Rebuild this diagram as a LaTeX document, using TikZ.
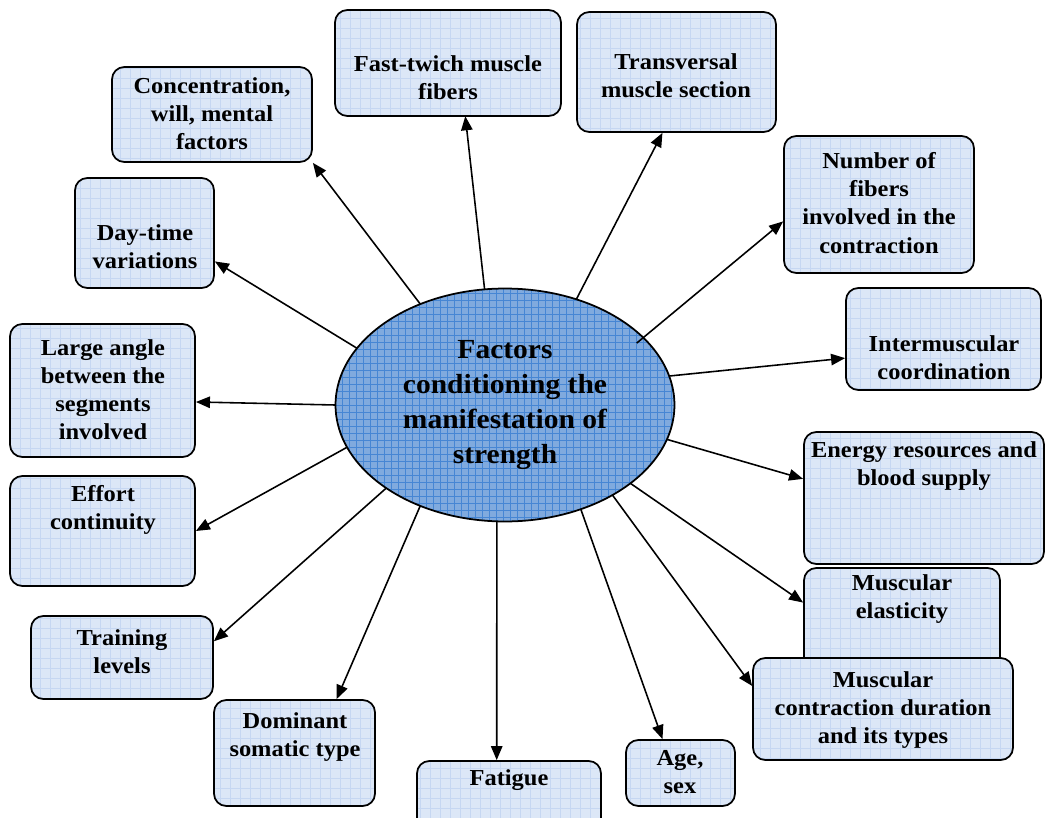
\documentclass[tikz,border=0pt]{standalone}
\usepackage{fontspec}
\setmainfont{Liberation Serif}[FakeStretch=1.07]
\usetikzlibrary{arrows.meta,shapes.geometric,fit,patterns.meta}
\definecolor{boxblue}{RGB}{220,231,247}
\definecolor{boxgrid}{RGB}{198,215,242}
\definecolor{hubblue}{RGB}{128,170,222}
\definecolor{hubgrid}{RGB}{70,134,212}

\begin{document}
\begin{tikzpicture}[
  x=0.02cm, y=-0.02cm,
  >={Triangle[length=8pt,width=6.5pt]},
  every node/.style={font=\fontsize{13}{16}\selectfont\bfseries},
  boxstep/.style={draw, line width=1pt, rounded corners=7pt, inner sep=0pt,
    preaction={fill=boxblue},
    pattern={Hatch[distance=0.2cm,line width=0.25pt]}, pattern color=boxgrid},
  boxtxt/.style={align=center, inner sep=0pt},
  hub/.style={draw, ellipse, line width=1pt, inner sep=0pt,
    preaction={fill=hubblue},
    pattern={Hatch[distance=0.14cm,line width=0.35pt]}, pattern color=hubgrid,
    minimum width=6.78cm, minimum height=4.66cm, align=center,
    font=\fontsize{15.7}{20}\selectfont\bfseries},
  arr/.style={->, line width=0.9pt}
]
\useasboundingbox (0,0) rectangle (1046,818);

\node[boxstep, fit={(335,10) (561,116)}] (b1) {};
\node[boxstep, fit={(577,12) (776,132)}] (b2) {};
\node[boxstep, fit={(112,67) (312,162)}] (b3) {};
\node[boxstep, fit={(784,136) (974,273)}] (b4) {};
\node[boxstep, fit={(75,178) (214,288)}] (b5) {};
\node[boxstep, fit={(846,288) (1041,390)}] (b6) {};
\node[boxstep, fit={(10,324) (195,457)}] (b7) {};
\node[boxstep, fit={(804,432) (1044,564)}] (b8) {};
\node[boxstep, fit={(10,476) (195,586)}] (b9) {};
\node[boxstep, fit={(804,568) (1000,672)}] (b10) {};
\node[boxstep, fit={(31,616) (213,699)}] (b11) {};
\node[boxstep, fit={(753,658) (1013,760)}] (b12) {};
\node[boxstep, fit={(214,700) (375,806)}] (b13) {};
\node[boxstep, fit={(417,761) (601,845)}] (b14) {};
\node[boxstep, fit={(626,740) (735,806)}] (b15) {};

\node[boxtxt] (t1) at (448,78) {Fast-twich muscle\\fibers};
\node[boxtxt] (t2) at (676,76) {Transversal\\muscle section};
\node[boxtxt] (t3) at (212,114) {Concentration,\\will, mental\\factors};
\node[boxtxt] (t4) at (879,203) {Number of\\fibers\\involved in the\\contraction};
\node[boxtxt] (t5) at (145,247) {Day-time\\variations};
\node[boxtxt] (t6) at (944,358) {Intermuscular\\coordination};
\node[boxtxt] (t7) at (103,390) {Large angle\\between the\\segments\\involved};
\node[boxtxt] (t8) at (924,466) {Energy resources and\\blood supply};
\node[boxtxt] (t9) at (103,510) {Effort\\continuity};
\node[boxtxt] (t10) at (902,599) {Muscular\\elasticity};
\node[boxtxt] (t11) at (122,652) {Training\\levels};
\node[boxtxt] (t12) at (883,710) {Muscular\\contraction duration\\and its types};
\node[boxtxt] (t13) at (295,737) {Dominant\\somatic type};
\node[boxtxt] (t14) at (509,780) {Fatigue};
\node[boxtxt] (t15) at (680,772) {Age,\\sex};

\node[hub] (hub) at (505,405) {Factors\\conditioning the\\manifestation of\\strength};

\draw[arr] (hub.100) -- (b1.-72);
\draw[arr] (hub.56) -- (b2.-103);
\draw[arr] (hub.130) -- (b3.south east);
\draw[arr, shorten <=-5pt] (hub.26) -- (b4.190);
\draw[arr] (hub.159) -- (b5.-22);
\draw[arr] (hub.10) -- (b6.191);
\draw[arr] (hub.180) -- (b7.-7);
\draw[arr] (hub.-12) -- (b8.171);
\draw[arr] (hub.195) -- (b9.east);
\draw[arr] (hub.-32) -- (b10.170);
\draw[arr] (hub.215) -- (b11.10);
\draw[arr] (hub.-40) -- (b12.170);
\draw[arr] (hub.230) -- (b13.52);
\draw[arr] (hub.266) -- (b14.106);
\draw[arr] (hub.-54) -- (b15.118);
\end{tikzpicture}
\end{document}
